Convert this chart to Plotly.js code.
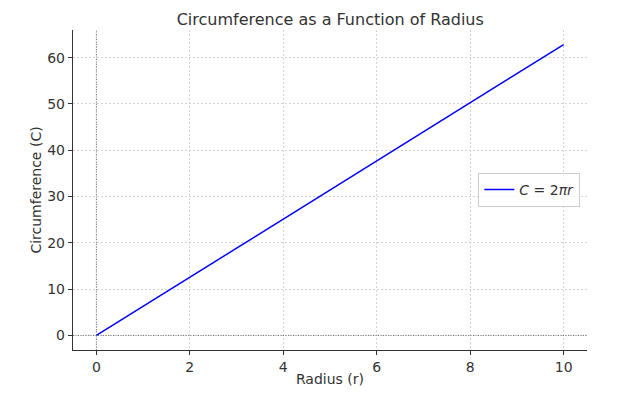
<!DOCTYPE html>
<html><head><meta charset="utf-8">
<script src="https://cdn.plot.ly/plotly-3.0.1.min.js"></script>
<style>body{margin:0;padding:0;background:#fff}#chart{width:640px;height:394px}</style>
</head><body><div id="chart"></div>
<script>
var radius = [0, 1, 2, 3, 4, 5, 6, 7, 8, 9, 10];
var circumference = [0, 6.283, 12.566, 18.850, 25.133, 31.416, 37.699, 43.982, 50.265, 56.549, 62.832];
var xTicks = [0, 2, 4, 6, 8, 10];
var yTicks = [0, 10, 20, 30, 40, 50, 60];

var trace = {
  x: radius, y: circumference, type: 'scatter', mode: 'lines',
  name: '<i>C</i> = 2<i>πr</i>',
  line: {color: '#0000ff', width: 1.5}
};
var layout = {
  width: 640, height: 394,
  margin: {l: 73, r: 53, t: 30, b: 44},
  paper_bgcolor: '#fff', plot_bgcolor: '#fff',
  font: {family: 'DejaVu Sans', size: 14, color: '#333'},
  title: {text: 'Circumference as a Function of Radius', font: {size: 16, color: '#333'}, x: 0.516, xanchor: 'center', y: 0.952, yanchor: 'middle'},
  xaxis: {
    range: [-0.5, 10.5], tickvals: xTicks, ticktext: xTicks.map(String),
    showgrid: true, gridcolor: '#c8c8c8', griddash: '2px,2px', gridwidth: 0.8,
    zeroline: false, showline: true, linecolor: '#333', linewidth: 1.2,
    ticks: 'outside', ticklen: 4, tickcolor: '#333',
    tickfont: {size: 14, color: '#333'},
    title: {text: 'Radius (r)', font: {size: 14, color: '#333'}, standoff: 0}
  },
  yaxis: {
    range: [-3.14, 65.97], tickvals: yTicks, ticktext: yTicks.map(String),
    showgrid: true, gridcolor: '#c8c8c8', griddash: '2px,2px', gridwidth: 0.8,
    zeroline: false, showline: true, linecolor: '#333', linewidth: 1.2,
    ticks: 'outside', ticklen: 4, tickcolor: '#333',
    tickfont: {size: 14, color: '#333'},
    title: {text: 'Circumference (C)', font: {size: 14, color: '#333'}, standoff: 2}
  },
  shapes: [
    {type: 'line', xref: 'paper', x0: 0, x1: 1, yref: 'y', y0: 0, y1: 0, line: {color: '#555', width: 0.8, dash: '1px,1.5px'}},
    {type: 'line', yref: 'paper', y0: 0, y1: 1, xref: 'x', x0: 0, x1: 0, line: {color: '#555', width: 0.8, dash: '1px,1.5px'}}
  ],
  showlegend: true,
  legend: {x: 0.987, xanchor: 'right', y: 0.5, yanchor: 'middle', bgcolor: 'rgba(255,255,255,0.8)', bordercolor: '#ccc', borderwidth: 1, font: {size: 14, color: '#333'}}
};
Plotly.newPlot('chart', [trace], layout, {displayModeBar: false, staticPlot: true});
</script></body></html>
